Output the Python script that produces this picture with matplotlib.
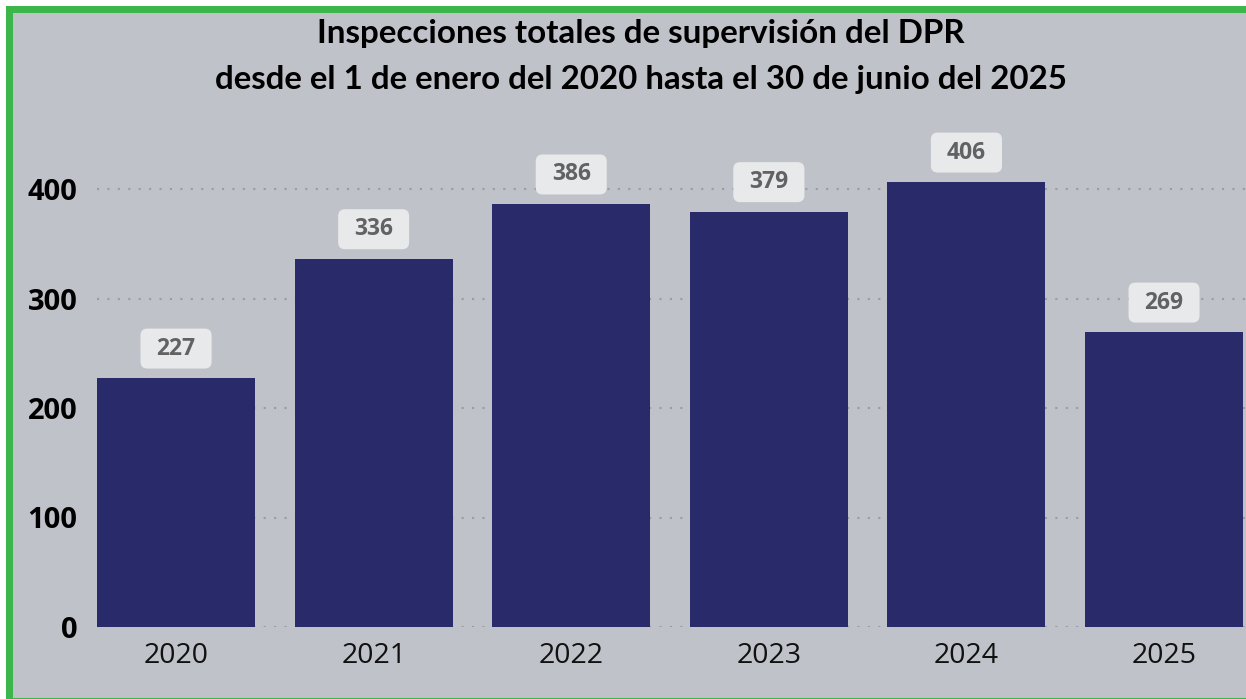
import matplotlib
matplotlib.use("Agg")
import matplotlib.pyplot as plt
from matplotlib.patches import Rectangle, BoxStyle

years = ["2020", "2021", "2022", "2023", "2024", "2025"]
values = [227, 336, 386, 379, 406, 269]
yticks = [0, 100, 200, 300, 400]
title_lines = ["Inspecciones totales de supervisión del DPR",
               "desde el 1 de enero del 2020 hasta el 30 de junio del 2025"]

BG = "#c0c2c9"
BAR = "#282a69"
GREEN = "#3cb54a"
BOX = "#e8e9eb"
W, H = 1246, 699
title_font = "Lato"

fig = plt.figure(figsize=(W / 100, H / 100), dpi=100)
fig.patch.set_facecolor("white")
# background panel with green border
lw_pt = 7 * 72 / 100
fig.patches.append(Rectangle((8.5 / W, (H - 700.5) / H), (1252 - 8.5) / W, (700.5 - 8.5) / H,
                             transform=fig.transFigure, facecolor=BG, edgecolor=GREEN,
                             linewidth=lw_pt, zorder=-5))

ax = fig.add_axes([97 / W, 72 / H, 1149 / W, 492.75 / H])
ax.set_facecolor("none")
x = list(range(len(years)))
ax.bar(x, values, width=0.8, color=BAR, zorder=2)
ax.set_xlim(-0.4, -0.4 + 1149 / 197.6)
ax.set_ylim(0, 450)
ax.set_yticks(yticks)
ax.set_yticklabels([str(v) for v in yticks], fontfamily="Open Sans", fontweight="bold",
                   fontsize=21, color="black")
ax.set_xticks(x)
ax.set_xticklabels(years, fontfamily="Open Sans", fontsize=20.5, color="#111111")
ax.tick_params(axis="both", length=0)
ax.tick_params(axis="y", pad=14)
ax.tick_params(axis="x", pad=11)
for s in ax.spines.values():
    s.set_visible(False)
ax.grid(axis="y", color="#9a9ca3", linestyle=(0, (1, 4)), linewidth=1.5, zorder=1)
ax.set_axisbelow(True)


class PadBox:
    def __init__(self, px, py, r):
        self.px, self.py, self.r = px, py, r

    def __call__(self, x0, y0, width, height, mutation_size):
        return BoxStyle.Round(pad=0, rounding_size=self.r)(
            x0 - self.px, y0 - self.py, width + 2 * self.px, height + 2 * self.py, mutation_size)


for xi, v in zip(x, values):
    ax.annotate(str(v), (xi, v), xytext=(0, 21.5), textcoords="offset points",
                ha="center", va="center", fontfamily="Open Sans", fontweight="bold",
                fontsize=16.5, color="#626262", zorder=4,
                bbox=dict(boxstyle=PadBox(16, 8, 0.3), facecolor=BOX, edgecolor="none"))

# title lines fitted to measured widths
targets = [(33, 650), (80, 855)]
fig.canvas.draw()
r = fig.canvas.get_renderer()
for line, (yc, wt) in zip(title_lines, targets):
    t = fig.text(641 / W, 1 - yc / H, line, ha="center", va="center", fontfamily=title_font,
                 fontweight="bold", fontsize=20, color="black")
    w = t.get_window_extent(r).width
    t.set_fontsize(20 * wt / w)

fig.savefig("out.png", dpi=100, facecolor=fig.get_facecolor())
